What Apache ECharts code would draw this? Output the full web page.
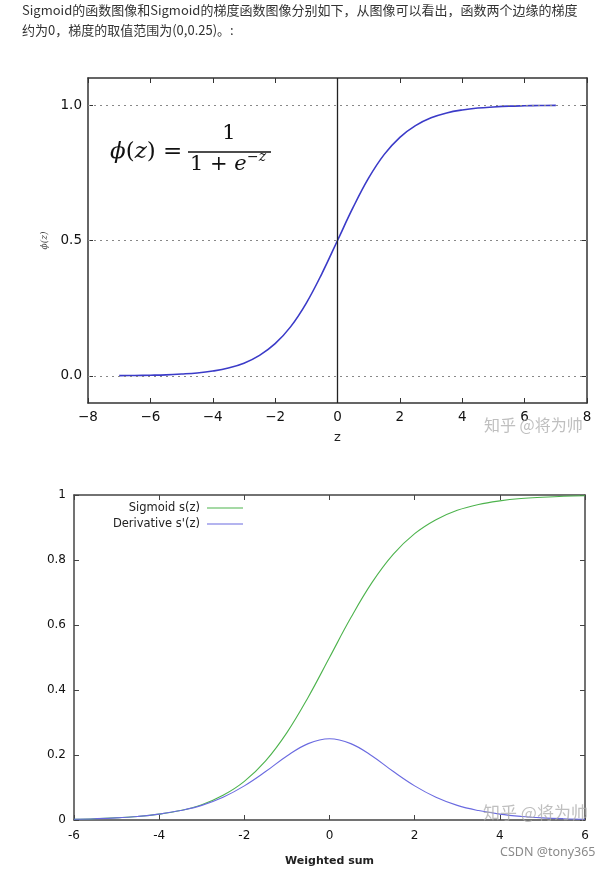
<!DOCTYPE html>
<html>
<head>
<meta charset="utf-8">
<script src="https://cdn.jsdelivr.net/npm/echarts@6/dist/echarts.min.js"></script>
<style>
html,body{margin:0;padding:0;background:#fff;}
#c{width:607px;height:870px;}
</style>
</head>
<body>
<div id="c"></div>
<script>
// ---- data ----
const zTop = [-7,-6.5,-6,-5.5,-5,-4.5,-4,-3.5,-3,-2.5,-2,-1.5,-1,-0.5,0,0.5,1,1.5,2,2.5,3,3.5,4,4.5,5,5.5,6,6.5,7];
const sigTop = [0.001,0.0015,0.0025,0.004,0.007,0.011,0.018,0.029,0.047,0.076,0.119,0.182,0.269,0.378,0.5,0.622,0.731,0.818,0.881,0.924,0.953,0.971,0.982,0.989,0.993,0.996,0.9975,0.9985,0.999];
const topXTicks = [-8,-6,-4,-2,0,2,4,6,8];
const topYTicks = [0,0.5,1];

const zBot = [-6,-5.5,-5,-4.5,-4,-3.5,-3,-2.5,-2,-1.5,-1,-0.5,0,0.5,1,1.5,2,2.5,3,3.5,4,4.5,5,5.5,6];
const sigBot = [0.0025,0.004,0.007,0.011,0.018,0.029,0.047,0.076,0.119,0.182,0.269,0.378,0.5,0.622,0.731,0.818,0.881,0.924,0.953,0.971,0.982,0.989,0.993,0.996,0.9975];
const derBot = [0.0025,0.004,0.0066,0.011,0.018,0.029,0.045,0.070,0.105,0.149,0.197,0.235,0.25,0.235,0.197,0.149,0.105,0.070,0.045,0.029,0.018,0.011,0.0066,0.004,0.0025];
const botXTicks = [-6,-4,-2,0,2,4,6];
const botYTicks = [0,0.2,0.4,0.6,0.8,1];

const legendNames = ['Sigmoid s(z)', "Derivative s'(z)"];
const introLines = [
  'Sigmoid的函数图像和Sigmoid的梯度函数图像分别如下，从图像可以看出，函数两个边缘的梯度',
  '约为0，梯度的取值范围为(0,0.25)。:'
];

// ---- chart ----
const minus = v => String(v).replace('-', '\u2212');
const pairs = (xs, ys) => xs.map((x, i) => [x, ys[i]]);
const topColor = '#3b3bc8';
const greenColor = '#4db34d';
const blueColor = '#6a6ae0';

const chart = echarts.init(document.getElementById('c'), null, {renderer: 'canvas'});

const topLine = {show: true, onZero: false, lineStyle: {color: '#333', width: 1.5}};
const botLine = {show: true, onZero: false, lineStyle: {color: '#444', width: 1.5}};
const tickIn = (color) => ({show: true, inside: true, length: 5, lineStyle: {color: color, width: 1}});

chart.setOption({
  animation: false,
  backgroundColor: '#fff',
  grid: [
    {left: 88, top: 78, width: 499, height: 325},
    {left: 74, top: 495, width: 511, height: 325}
  ],
  xAxis: [
    {gridIndex: 0, type: 'value', min: -8, max: 8, interval: 2, position: 'bottom',
     axisLine: topLine, axisTick: tickIn('#333'), splitLine: {show: false},
     axisLabel: {formatter: minus, color: '#111', fontSize: 13.5, margin: 7, fontFamily: 'DejaVu Sans'},
     name: 'z', nameLocation: 'middle', nameGap: 28,
     nameTextStyle: {color: '#222', fontSize: 13, fontFamily: 'DejaVu Sans'}},
    {gridIndex: 0, type: 'value', min: -8, max: 8, interval: 2, position: 'top',
     axisLine: topLine, axisTick: tickIn('#333'), splitLine: {show: false}, axisLabel: {show: false}},
    {gridIndex: 1, type: 'value', min: -6, max: 6, interval: 2, position: 'bottom',
     axisLine: botLine, axisTick: tickIn('#444'), splitLine: {show: false},
     axisLabel: {formatter: v => String(v), color: '#111', fontSize: 12, margin: 10, fontFamily: 'DejaVu Sans'},
     name: 'Weighted sum', nameLocation: 'middle', nameGap: 36,
     nameTextStyle: {color: '#222', fontSize: 11, fontWeight: 'bold', fontFamily: 'DejaVu Sans'}},
    {gridIndex: 1, type: 'value', min: -6, max: 6, interval: 2, position: 'top',
     axisLine: botLine, axisTick: tickIn('#444'), splitLine: {show: false}, axisLabel: {show: false}}
  ],
  yAxis: [
    {gridIndex: 0, type: 'value', min: -0.1, max: 1.1, position: 'left',
     axisLine: topLine,
     axisTick: Object.assign(tickIn('#333'), {customValues: topYTicks}),
     axisLabel: {customValues: topYTicks, formatter: v => v.toFixed(1), color: '#111', fontSize: 13.5, margin: 6, fontFamily: 'DejaVu Sans'},
     splitLine: {show: false},
     name: 'ϕ(z)', nameLocation: 'middle', nameRotate: 90, nameGap: 36,
     nameTextStyle: {color: '#444', fontSize: 9, fontFamily: 'DejaVu Serif', fontStyle: 'italic'}},
    {gridIndex: 0, type: 'value', min: -0.1, max: 1.1, position: 'right',
     axisLine: topLine,
     axisTick: Object.assign(tickIn('#333'), {customValues: topYTicks}),
     axisLabel: {show: false}, splitLine: {show: false}},
    {gridIndex: 1, type: 'value', min: 0, max: 1, interval: 0.2, position: 'left',
     axisLine: botLine, axisTick: tickIn('#444'), splitLine: {show: false},
     axisLabel: {formatter: v => String(+v.toFixed(1)), color: '#111', fontSize: 12, margin: 8, fontFamily: 'DejaVu Sans'}},
    {gridIndex: 1, type: 'value', min: 0, max: 1, interval: 0.2, position: 'right',
     axisLine: botLine, axisTick: tickIn('#444'), splitLine: {show: false}, axisLabel: {show: false}}
  ],
  series: [
    {type: 'line', xAxisIndex: 0, yAxisIndex: 0, data: pairs(zTop, sigTop), smooth: 0.4,
     showSymbol: false, lineStyle: {color: topColor, width: 1.6}, z: 3,
     markLine: {silent: true, symbol: 'none', label: {show: false}, animation: false,
       data: [
         {yAxis: topYTicks[0], lineStyle: {type: [2, 4], color: '#888', width: 1}},
         {yAxis: topYTicks[1], lineStyle: {type: [2, 4], color: '#888', width: 1}},
         {yAxis: topYTicks[2], lineStyle: {type: [2, 4], color: '#888', width: 1}},
         {xAxis: 0, lineStyle: {type: 'solid', color: '#222', width: 1.3}}
       ]}},
    {type: 'line', name: legendNames[0], xAxisIndex: 2, yAxisIndex: 2, data: pairs(zBot, sigBot), smooth: 0.4,
     showSymbol: false, lineStyle: {color: greenColor, width: 1.1}},
    {type: 'line', name: legendNames[1], xAxisIndex: 2, yAxisIndex: 2, data: pairs(zBot, derBot), smooth: 0.4,
     showSymbol: false, lineStyle: {color: blueColor, width: 1.1}}
  ],
  graphic: [
    // intro text
    {type: 'text', left: 22, top: 4, style: {text: introLines[0], font: '13px "Noto Sans CJK SC"', fill: '#333'}},
    {type: 'text', left: 22, top: 24, style: {text: introLines[1], font: '13px "Noto Sans CJK SC"', fill: '#333'}},
    // formula
    {type: 'text', x: 110, y: 152, style: {
      text: '{i|ϕ}{n|(}{i|z}{n|) =}', verticalAlign: 'middle', align: 'left',
      rich: {i: {font: 'italic 23px "DejaVu Serif"', fill: '#111'}, n: {font: '23px "DejaVu Serif"', fill: '#111'}}}},
    {type: 'text', x: 229, y: 134, style: {text: '1', font: '21px "DejaVu Serif"', fill: '#111', align: 'center', verticalAlign: 'middle'}},
    {type: 'line', shape: {x1: 188, y1: 152, x2: 271, y2: 152}, style: {stroke: '#111', lineWidth: 1.5}},
    {type: 'text', x: 190, y: 165, style: {
      text: '{n|1 + }{i|e}', verticalAlign: 'middle', align: 'left',
      rich: {i: {font: 'italic 21px "DejaVu Serif"', fill: '#111'}, n: {font: '21px "DejaVu Serif"', fill: '#111'}}}},
    {type: 'text', x: 247, y: 157, style: {
      text: '{n|\u2212}{i|z}', verticalAlign: 'middle', align: 'left',
      rich: {i: {font: 'italic 14px "DejaVu Serif"', fill: '#111'}, n: {font: '14px "DejaVu Serif"', fill: '#111'}}}},
    // legend bottom chart
    {type: 'text', x: 200, y: 508, style: {text: legendNames[0], font: '11.5px "DejaVu Sans"', fill: '#222', align: 'right', verticalAlign: 'middle'}},
    {type: 'line', shape: {x1: 207, y1: 508, x2: 243, y2: 508}, style: {stroke: greenColor, lineWidth: 1.1}},
    {type: 'text', x: 200, y: 524, style: {text: legendNames[1], font: '11.5px "DejaVu Sans"', fill: '#222', align: 'right', verticalAlign: 'middle'}},
    {type: 'line', shape: {x1: 207, y1: 524, x2: 243, y2: 524}, style: {stroke: blueColor, lineWidth: 1.1}},
    // watermarks
    {type: 'text', x: 484, y: 425, z: 100, style: {text: '知乎 @将为帅', font: '16px "Noto Sans CJK SC"', fill: 'rgba(170,170,170,0.75)', verticalAlign: 'middle'}},
    {type: 'text', x: 483, y: 813, z: 100, style: {text: '知乎 @将为帅', font: '17px "Noto Sans CJK SC"', fill: 'rgba(170,170,170,0.75)', verticalAlign: 'middle'}},
    {type: 'text', x: 500, y: 852, z: 101, style: {text: 'CSDN @tony365', font: '12.5px "Noto Sans"', fill: '#8a8a8a', verticalAlign: 'middle', stroke: '#fff', lineWidth: 2}}
  ]
});
</script>
</body>
</html>
